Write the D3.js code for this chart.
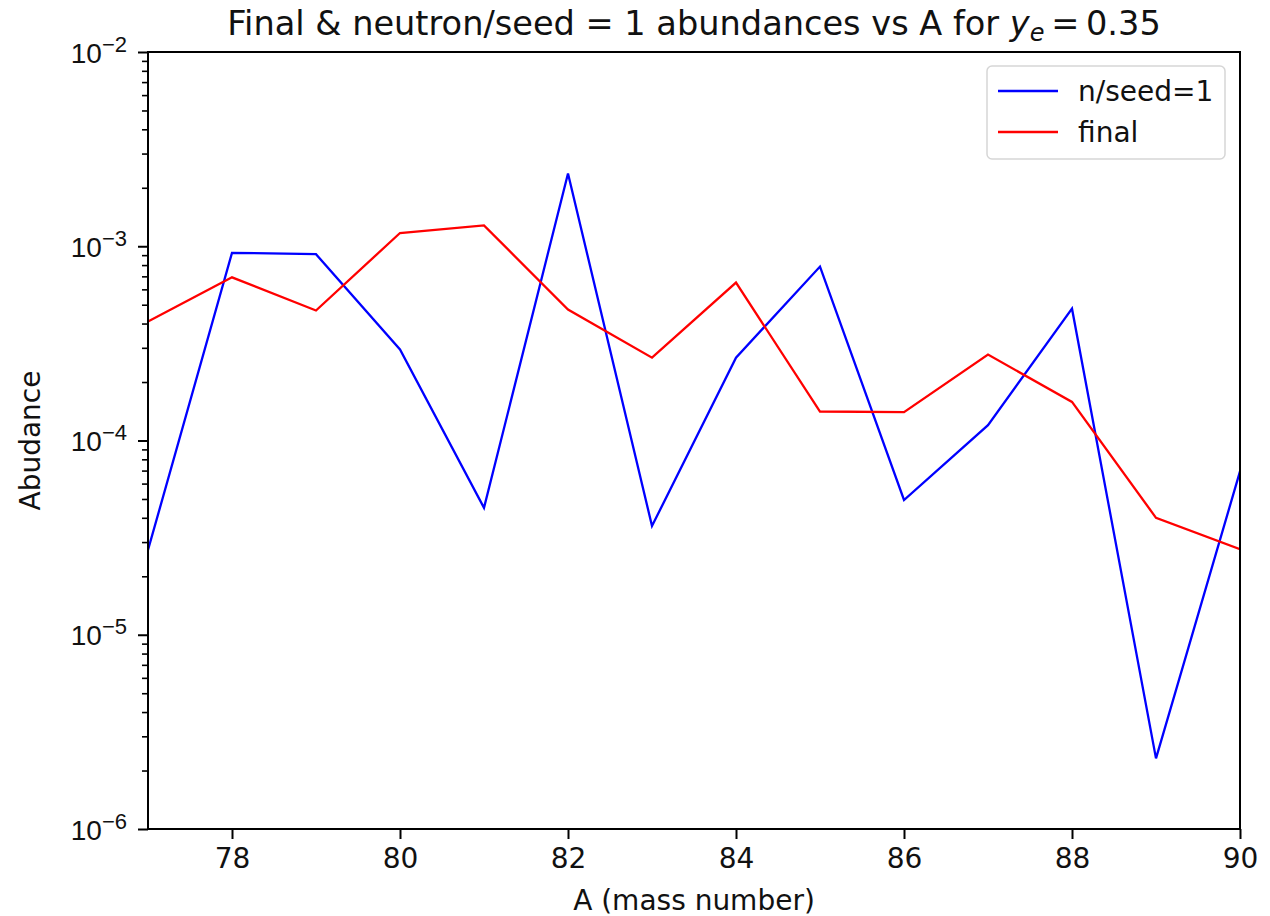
<!DOCTYPE html>
<html>
<head>
<meta charset="utf-8">
<script src="https://cdn.jsdelivr.net/npm/d3@7"></script>
<style>
  html, body { margin: 0; padding: 0; background: #fff; }
  svg { display: block; font-family: "DejaVu Sans", sans-serif; }
</style>
</head>
<body>
<svg id="chart" width="1270" height="916"></svg>
<script>
// Mass numbers and abundances
const massNumbers = [77, 78, 79, 80, 81, 82, 83, 84, 85, 86, 87, 88, 89, 90];
const seedAbund = [2.73e-5, 9.25e-4, 9.1e-4, 2.94e-4, 4.5e-5, 2.37e-3, 3.63e-5, 2.67e-4, 7.86e-4, 4.94e-5, 1.2e-4, 4.77e-4, 2.31e-6, 6.93e-5];
const finalAbund = [4.1e-4, 6.92e-4, 4.67e-4, 1.17e-3, 1.28e-3, 4.72e-4, 2.67e-4, 6.5e-4, 1.41e-4, 1.40e-4, 2.77e-4, 1.58e-4, 4.0e-5, 2.76e-5];
const xTicks = [78, 80, 82, 84, 86, 88, 90];
const yExponents = [-6, -5, -4, -3, -2];
const seriesNames = ["n/seed=1", "final"];
const seriesColors = ["#0000ff", "#ff0000"];

const TXT = "#111";
const FS = 28;       // tick, label and legend text
const FS_TITLE = 33.6;

const svg = d3.select("#chart");
const margin = { left: 148, right: 30, top: 52, bottom: 87 };
const W = 1270, H = 916;
const x = d3.scaleLinear().domain([77, 90]).range([margin.left, W - margin.right]);
const y = d3.scaleLog().domain([1e-6, 1e-2]).range([H - margin.bottom, margin.top]);

// clip lines to the axes box
svg.append("defs").append("clipPath").attr("id", "clip")
  .append("rect")
  .attr("x", margin.left).attr("y", margin.top)
  .attr("width", x.range()[1] - x.range()[0])
  .attr("height", y.range()[0] - y.range()[1]);

const plot = svg.append("g");
const line = d3.line().x(d => x(d[0])).y(d => y(d[1]));
[seedAbund, finalAbund].forEach((vals, i) => {
  plot.append("path")
    .datum(massNumbers.map((m, j) => [m, vals[j]]))
    .attr("clip-path", "url(#clip)")
    .attr("fill", "none")
    .attr("stroke", seriesColors[i])
    .attr("stroke-width", 2.3)
    .attr("stroke-linejoin", "miter")
    .attr("d", line);
});

// X axis
const xAxis = d3.axisBottom(x).tickValues(xTicks).tickSize(10).tickPadding(9).tickFormat(d3.format("d"));
const gx = svg.append("g").attr("transform", `translate(0,${y.range()[0]})`).call(xAxis);
gx.select(".domain").remove();
gx.selectAll("line").attr("stroke", "#000").attr("stroke-width", 2);
gx.selectAll("text").attr("font-size", FS).attr("fill", TXT).attr("font-family", "DejaVu Sans");

// Y axis: minor ticks at 2..9 of each decade
const minorVals = [];
for (let e = -6; e < -2; e++) for (let k = 2; k <= 9; k++) minorVals.push(k * Math.pow(10, e));
const gyMinor = svg.append("g").attr("transform", `translate(${margin.left},0)`)
  .call(d3.axisLeft(y).tickValues(minorVals).tickSize(6).tickFormat(""));
gyMinor.select(".domain").remove();
gyMinor.selectAll("line").attr("stroke", "#000").attr("stroke-width", 1.6);

// Y axis: major ticks at decades with power-of-ten labels
const gy = svg.append("g").attr("transform", `translate(${margin.left},0)`)
  .call(d3.axisLeft(y).tickValues(yExponents.map(e => Math.pow(10, e))).tickSize(10).tickFormat(""));
gy.select(".domain").remove();
gy.selectAll("line").attr("stroke", "#000").attr("stroke-width", 2);
gy.selectAll(".tick").each(function(d) {
  const e = Math.round(Math.log10(d));
  const t = d3.select(this).append("text")
    .attr("x", -21).attr("dy", "0.36em")
    .attr("text-anchor", "end")
    .attr("font-size", FS).attr("fill", TXT);
  t.append("tspan").text("10");
  t.append("tspan").attr("dy", "-0.5em").attr("font-size", 22).text("\u2212" + Math.abs(e));
});

// axes frame
svg.append("rect")
  .attr("x", margin.left).attr("y", margin.top)
  .attr("width", x.range()[1] - x.range()[0])
  .attr("height", y.range()[0] - y.range()[1])
  .attr("fill", "none").attr("stroke", "#000").attr("stroke-width", 2);

// axis labels
svg.append("text").attr("x", (x.range()[0] + x.range()[1]) / 2).attr("y", 910)
  .attr("text-anchor", "middle").attr("font-size", FS).attr("fill", TXT)
  .text("A (mass number)");
svg.append("text")
  .attr("transform", `translate(40,${(y.range()[0] + y.range()[1]) / 2}) rotate(-90)`)
  .attr("text-anchor", "middle").attr("font-size", FS).attr("fill", TXT)
  .text("Abudance");

// title with math-style y_e
const title = svg.append("text").attr("x", (x.range()[0] + x.range()[1]) / 2).attr("y", 35)
  .attr("text-anchor", "middle").attr("font-size", FS_TITLE).attr("fill", TXT);
title.append("tspan").text("Final & neutron/seed = 1 abundances vs A for ");
title.append("tspan").attr("font-style", "italic").text("y");
title.append("tspan").attr("font-size", 24).attr("font-style", "italic").attr("dy", "0.25em").text("e");
title.append("tspan").attr("dy", "-0.18em").text("\u2009=\u20090.35");

// legend
const lg = svg.append("g");
lg.append("rect").attr("x", 987).attr("y", 66).attr("width", 238).attr("height", 93)
  .attr("rx", 5).attr("fill", "#fff").attr("fill-opacity", 0.8)
  .attr("stroke", "#d6d6d6").attr("stroke-width", 1.5);
seriesNames.forEach((name, i) => {
  const yy = 91 + i * 41;
  lg.append("line").attr("x1", 998).attr("x2", 1058).attr("y1", yy).attr("y2", yy)
    .attr("stroke", seriesColors[i]).attr("stroke-width", 2.3);
  lg.append("text").attr("x", 1078).attr("y", yy + 9.5)
    .attr("font-size", FS).attr("fill", TXT).text(name);
});
</script>
</body>
</html>
